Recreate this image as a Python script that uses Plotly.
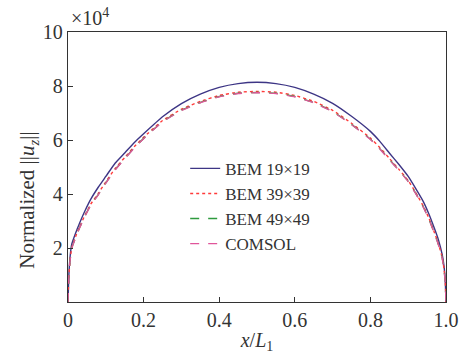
import plotly.graph_objects as go

x_vals = [0, 0.002, 0.005, 0.01, 0.02, 0.03, 0.045, 0.06, 0.08, 0.1, 0.125, 0.15, 0.175, 0.2,
          0.25, 0.3, 0.35, 0.4, 0.45, 0.5, 0.55, 0.6, 0.65, 0.7, 0.75, 0.8, 0.825, 0.85, 0.875,
          0.9, 0.92, 0.94, 0.955, 0.97, 0.98, 0.99, 0.995, 0.998, 1.0]

bem19 = [0, 0.9, 1.6, 2.15, 2.55, 2.9, 3.38, 3.8, 4.25, 4.65, 5.15, 5.52, 5.9, 6.23,
         6.86, 7.35, 7.7, 7.95, 8.09, 8.14, 8.09, 7.95, 7.7, 7.36, 6.88, 6.32, 5.95, 5.52, 5.1,
         4.65, 4.2, 3.72, 3.25, 2.7, 2.3, 1.75, 1.3, 0.8, 0]
bem39 = [0, 0.85, 1.5, 2.02, 2.42, 2.76, 3.22, 3.62, 4.02, 4.45, 4.95, 5.35, 5.75, 6.1,
         6.72, 7.14, 7.43, 7.65, 7.77, 7.8, 7.77, 7.65, 7.43, 7.1, 6.62, 6.07, 5.72, 5.32, 4.92,
         4.5, 4.05, 3.55, 3.1, 2.55, 2.15, 1.65, 1.2, 0.75, 0]
bem49 = [0, 0.84, 1.48, 2.0, 2.39, 2.73, 3.19, 3.59, 3.98, 4.41, 4.91, 5.31, 5.71, 6.06,
         6.68, 7.1, 7.39, 7.61, 7.73, 7.76, 7.73, 7.61, 7.39, 7.06, 6.58, 6.03, 5.68, 5.28, 4.89,
         4.47, 4.02, 3.52, 3.07, 2.53, 2.13, 1.63, 1.19, 0.74, 0]
comsol = [0, 0.84, 1.47, 1.99, 2.38, 2.72, 3.18, 3.58, 3.97, 4.4, 4.9, 5.3, 5.7, 6.05,
          6.67, 7.09, 7.38, 7.6, 7.72, 7.75, 7.72, 7.6, 7.38, 7.05, 6.57, 6.02, 5.67, 5.27, 4.88,
          4.46, 4.01, 3.51, 3.06, 2.52, 2.12, 1.62, 1.18, 0.73, 0]

names = ["BEM 19×19", "BEM 39×39", "BEM 49×49", "COMSOL"]
colors = ["#3d3585", "#ff3a3a", "#2e9a3e", "#e0559a"]
dashes = ["solid", "dot", "dash", "dash"]
series = [bem19, bem39, bem49, comsol]

x_ticks = [0, 0.2, 0.4, 0.6, 0.8, 1.0]
x_ticklabels = ["0", "0.2", "0.4", "0.6", "0.8", "1.0"]
y_ticks = [2, 4, 6, 8, 10]
y_ticklabels = ["2", "4", "6", "8", "10"]

FONT = "'Liberation Serif', 'Times New Roman', serif"
TXT = "#333333"

fig = go.Figure()
for name, ys, c, d in zip(names, series, colors, dashes):
    fig.add_trace(go.Scatter(x=x_vals, y=ys, mode="lines", name=name,
                             line=dict(color=c, width=1.4, dash=d, shape="spline", smoothing=0.4)))

axis_common = dict(showline=True, linecolor="#333333", linewidth=1.3, mirror=True,
                   ticks="inside", ticklen=5, tickwidth=1.2, tickcolor="#333333",
                   showgrid=False, zeroline=False, automargin=False,
                   tickfont=dict(family=FONT, size=20, color=TXT))

fig.update_layout(
    width=462, height=355,
    margin=dict(l=68, r=16, t=32, b=53),
    paper_bgcolor="white", plot_bgcolor="white",
    font=dict(family=FONT, color=TXT),
    xaxis=dict(range=[0, 1.0], tickvals=x_ticks, ticktext=x_ticklabels,
               title=dict(text="<i>x</i>/<i>L</i><sub>1</sub>", font=dict(family=FONT, size=20, color=TXT), standoff=2),
               **axis_common),
    yaxis=dict(range=[0, 10], tickvals=y_ticks, ticktext=y_ticklabels,
               **axis_common),
    legend=dict(x=0.31, y=0.56, xanchor="left", yanchor="top", bgcolor="rgba(0,0,0,0)",
                font=dict(family=FONT, size=17, color=TXT), tracegroupgap=0),
    showlegend=True,
)

# y-axis title (placed like the reference, below the axis centre)
fig.add_annotation(text="Normalized ||<i>u</i><sub><i>z</i></sub>||", xref="paper", yref="paper",
                   x=0.0, y=0.375, xanchor="center", yanchor="middle", xshift=-40,
                   textangle=-90, showarrow=False,
                   font=dict(family=FONT, size=21, color=TXT))

fig.add_annotation(text="×10<sup>4</sup>", xref="paper", yref="paper", x=0.0, y=1.0,
                   xanchor="left", yanchor="bottom", showarrow=False, yshift=1, xshift=1,
                   font=dict(family=FONT, size=20, color=TXT))

fig.write_html("out.html")
